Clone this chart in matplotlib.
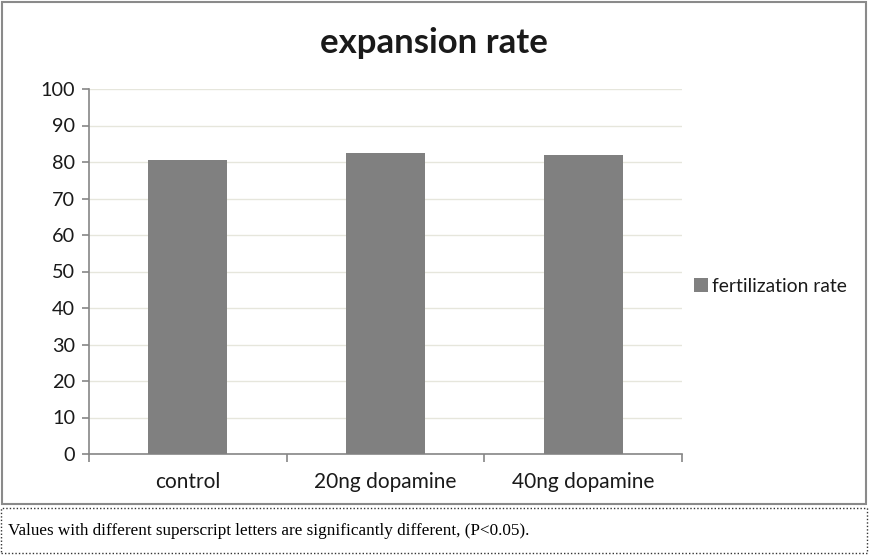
import matplotlib
matplotlib.use("Agg")
import matplotlib.pyplot as plt
from matplotlib.patches import Rectangle
import numpy as np

categories = ["control", "20ng dopamine", "40ng dopamine"]
values = [80.5, 82.5, 81.9]
series_name = "fertilization rate"
title = "expansion rate"
caption = "Values with different superscript letters are significantly different, (P<0.05)."
yticks = [0, 10, 20, 30, 40, 50, 60, 70, 80, 90, 100]

W, H = 869, 556
FS = 14.3
fig = plt.figure(figsize=(W / 100, H / 100), dpi=100)
fig.patch.set_facecolor("white")

# outer chart border
fig.patches.append(Rectangle((2 / W, 1 - 504 / H), 864 / W, 502 / H, transform=fig.transFigure,
                             fill=False, edgecolor="#8a8a8a", linewidth=1.5))
# caption dotted box
fig.patches.append(Rectangle((1 / W, 1 - 553 / H), 866 / W, 45 / H, transform=fig.transFigure,
                             fill=False, edgecolor="#333333", linewidth=1.0, linestyle=(0, (1, 1.5))))

ax = fig.add_axes([89 / W, 1 - 454 / H, (682 - 89) / W, (454 - 89) / H])
x = np.arange(len(categories))
bars = ax.bar(x, values, width=0.4, color="#808080", label=series_name, zorder=3)

ax.set_xlim(-0.5, len(categories) - 0.5)
ax.set_ylim(0, 100)
ax.set_yticks(yticks)
ax.set_yticklabels([str(t) for t in yticks], fontfamily="Lato", fontsize=FS, color="#1a1a1a")
ax.grid(axis="y", color="#e6e6dc", linewidth=1, zorder=0)

ax.set_xticks(np.arange(len(categories) + 1) - 0.5)
ax.set_xticklabels([])
ax.set_xticks(x, minor=True)
ax.set_xticklabels(categories, minor=True, fontfamily="Lato", fontsize=15, color="#1a1a1a")
ax.tick_params(axis="x", which="minor", length=0, pad=13)
ax.tick_params(axis="x", which="major", length=6, color="#868686", width=1.2)
ax.tick_params(axis="y", length=5, color="#868686", width=1.2, pad=5)

for s in ["top", "right"]:
    ax.spines[s].set_visible(False)
for s in ["left", "bottom"]:
    ax.spines[s].set_color("#868686")
    ax.spines[s].set_linewidth(1.2)

fig.text(434 / W, 1 - 43 / H, title, ha="center", va="center", fontfamily="Lato",
         fontweight="bold", fontsize=25, color="#1a1a1a")

leg = fig.legend(handles=[bars], labels=[series_name], loc="center left",
                 bbox_to_anchor=(677 / W, 1 - 286 / H), frameon=False,
                 prop={"family": "Lato", "size": 13.9}, handlelength=0.72, handleheight=0.72,
                 handletextpad=0.2)
for t in leg.get_texts():
    t.set_color("#1a1a1a")

fig.text(8 / W, 1 - 531 / H, caption, ha="left", va="center", fontfamily="Liberation Serif",
         fontsize=12.3, color="black")

fig.savefig("out.png", dpi=100)
